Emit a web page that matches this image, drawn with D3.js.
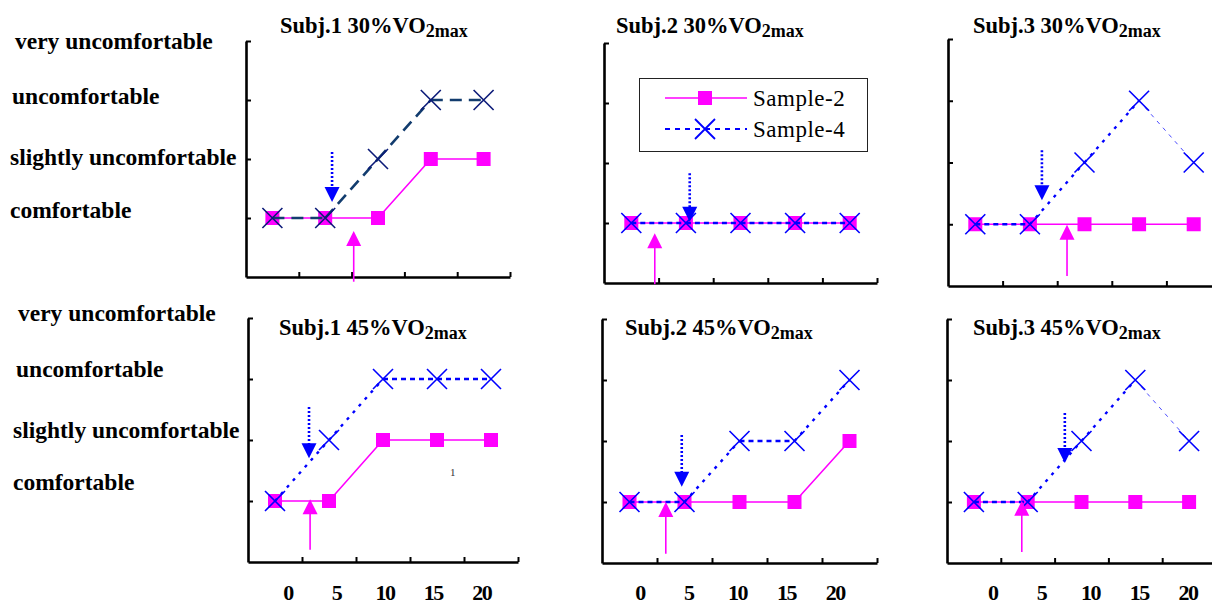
<!DOCTYPE html>
<html>
<head>
<meta charset="utf-8">
<script src="https://cdn.jsdelivr.net/npm/d3@7"></script>
<style>
  html, body { margin: 0; padding: 0; background: #fff; }
  svg { display: block; }
  text { font-family: "Liberation Serif", "Times New Roman", serif; }
</style>
</head>
<body>
<svg id="chart" width="1212" height="604"></svg>
<script>
// ---------------- DATA ----------------
const levelLabels = ["comfortable", "slightly uncomfortable", "uncomfortable", "very uncomfortable"]; // levels 1..4
const levelValues = [1, 2, 3, 4];
const timeTicks = [0, 5, 10, 15, 20];
const seriesNames = ["Sample-2", "Sample-4"];

const panelTitles = ["Subj.1 30%VO", "Subj.2 30%VO", "Subj.3 30%VO", "Subj.1 45%VO", "Subj.2 45%VO", "Subj.3 45%VO"];
const titleSub = "2max";

// comfort level at each of the 5 measurements
const sample2 = [
  [1, 1, 1, 2, 2],
  [1, 1, 1, 1, 1],
  [1, 1, 1, 1, 1],
  [1, 1, 2, 2, 2],
  [1, 1, 1, 1, 2],
  [1, 1, 1, 1, 1]
];
const sample4 = [
  [1, 1, 2, 3, 3],
  [1, 1, 1, 1, 1],
  [1, 1, 2, 3, 2],
  [1, 2, 3, 3, 3],
  [1, 1, 2, 2, 3],
  [1, 1, 2, 3, 2]
];

// arrows: [x position in measurement index units, tail level, tip level]
const arrowSample4 = [
  [1.13, 2.12, 1.27],
  [1.07, 1.83, 1.02],
  [1.22, 2.20, 1.39],
  [0.63, 2.54, 1.70],
  [0.95, 2.10, 1.25],
  [1.69, 2.46, 1.64]
];
const arrowSample2 = [
  [1.54, -0.08, 0.78],
  [0.43, -0.02, 0.83],
  [1.68, 0.16, 0.99],
  [0.65, 0.20, 1.03],
  [0.66, 0.15, 1.00],
  [0.89, 0.18, 1.02]
];

// ---------------- LAYOUT ----------------
const layout = [
  {left: 246, right: 510, top: 41, bottom: 277, tx: 280, ty: 33, navy: true},
  {left: 604, right: 877, top: 43, bottom: 283, tx: 616, ty: 33},
  {left: 948, right: 1221, top: 39, bottom: 286, tx: 973, ty: 33, thinLast: true},
  {left: 248, right: 518, top: 318, bottom: 562, tx: 279, ty: 335},
  {left: 602, right: 877, top: 319, bottom: 563, tx: 625, ty: 335},
  {left: 947, right: 1216, top: 319, bottom: 563, tx: 973, ty: 335, thinLast: true}
];
// tick-label mapping (index units for times 0 and 20) in the bottom row
const tickLabelSpan = [[0.24, 3.83], [0.19, 3.74], [0.35, 3.98]];

const rowLabelX = [[10, 10, 12, 15], [13, 13, 16, 18]];
const rowLabelDy = [[0, 6, 4, 8], [-11, -2, -2, 3]];

const MAGENTA = "#ff00ff";
const BLUE = "#0000ff";
const svg = d3.select("#chart");
svg.append("rect").attr("width", 1212).attr("height", 604).attr("fill", "#fff");

layout.forEach((L, p) => {
  const x = d3.scaleLinear().domain([-0.5, 4.5]).range([L.left, L.right]);
  const y = d3.scaleLinear().domain([0, 4]).range([L.bottom, L.top]);
  const g = svg.append("g");

  // axes
  const yAxis = d3.axisLeft(y).tickValues(levelValues).tickSizeInner(-5).tickSizeOuter(0).tickFormat("");
  const gy = g.append("g").attr("transform", `translate(${L.left},0)`).call(yAxis);
  const xAxis = d3.axisBottom(x).tickValues([0.5, 1.5, 2.5, 3.5, 4.5]).tickSizeInner(-5).tickSizeOuter(0).tickFormat("");
  const gx = g.append("g").attr("transform", `translate(0,${L.bottom})`).call(xAxis);
  [gy, gx].forEach(a => {
    a.select(".domain").attr("stroke", "#000").attr("stroke-width", 2.6);
    a.selectAll(".tick line").attr("stroke", "#000").attr("stroke-width", 2);
  });

  // title
  const t = g.append("text").attr("x", L.tx).attr("y", L.ty)
    .attr("font-size", 22.5).attr("font-weight", "bold").attr("fill", "#000");
  t.append("tspan").text(panelTitles[p]);
  t.append("tspan").attr("font-size", 18).attr("dy", 4).text(titleSub);

  // Sample-2
  const idx = d3.range(5);
  const line = d3.line().x(d => x(d[0])).y(d => y(d[1]));
  g.append("path").datum(idx.map(i => [i, sample2[p][i]]))
    .attr("d", line).attr("fill", "none").attr("stroke", MAGENTA).attr("stroke-width", 1.6);
  g.selectAll(".sq").data(sample2[p]).enter().append("rect")
    .attr("x", (d, i) => x(i) - 7).attr("y", d => y(d) - 7)
    .attr("width", 14).attr("height", 14).attr("fill", MAGENTA);

  // Sample-4 (segment by segment)
  const s4 = sample4[p];
  const lineCol = L.navy ? "#123c6e" : BLUE;
  const markCol = L.navy ? "#0b1a78" : BLUE;
  for (let i = 0; i < 4; i++) {
    const flat = s4[i] === s4[i + 1];
    const thin = L.thinLast && i === 3;
    let dash = flat ? "5,4" : "3,6";
    let w = 2.4;
    if (L.navy) { dash = "12,7"; w = 2.6; }
    if (thin) { dash = "4,5"; w = 1; }
    g.append("path").datum([[i, s4[i]], [i + 1, s4[i + 1]]])
      .attr("d", line).attr("fill", "none").attr("stroke", lineCol)
      .attr("stroke-width", w).attr("stroke-dasharray", dash)
      .attr("opacity", thin ? 0.7 : 1);
  }
  const xs = 10;
  g.selectAll(".xm").data(s4).enter().append("path")
    .attr("d", (d, i) => `M${x(i) - xs},${y(d) - xs}L${x(i) + xs},${y(d) + xs}M${x(i) - xs},${y(d) + xs}L${x(i) + xs},${y(d) - xs}`)
    .attr("stroke", markCol).attr("stroke-width", 1.6).attr("fill", "none");

  // arrows
  const a4 = arrowSample4[p];
  const ax = x(a4[0]), tail = y(a4[1]), tip = y(a4[2]);
  g.append("line").attr("x1", ax).attr("x2", ax).attr("y1", tail).attr("y2", tip - 12)
    .attr("stroke", BLUE).attr("stroke-width", 2.6).attr("stroke-dasharray", "2,2");
  g.append("path").attr("d", `M${ax - 7.5},${tip - 15}L${ax + 7.5},${tip - 15}L${ax},${tip}Z`).attr("fill", BLUE);

  const a2 = arrowSample2[p];
  const bx = x(a2[0]), tail2 = y(a2[1]), tip2 = y(a2[2]);
  g.append("line").attr("x1", bx).attr("x2", bx).attr("y1", tail2).attr("y2", tip2 + 12)
    .attr("stroke", MAGENTA).attr("stroke-width", 1.6);
  g.append("path").attr("d", `M${bx - 7.5},${tip2 + 15}L${bx + 7.5},${tip2 + 15}L${bx},${tip2}Z`).attr("fill", MAGENTA);

  // row labels & tick labels
  const row = p < 3 ? 0 : 1;
  if (p % 3 === 0) {
    levelLabels.forEach((lab, i) => {
      g.append("text").attr("x", rowLabelX[row][i]).attr("y", y(levelValues[i]) + rowLabelDy[row][i])
        .attr("font-size", 23.5).attr("font-weight", "bold").text(lab);
    });
  }
  if (row === 1) {
    const span = tickLabelSpan[p - 3];
    const tl = d3.scaleLinear().domain([0, 20]).range([x(span[0]), x(span[1])]);
    g.selectAll(".tl").data(timeTicks).enter().append("text")
      .attr("x", d => tl(d)).attr("y", 600).attr("text-anchor", "middle")
      .attr("font-size", 22).attr("font-weight", "bold").attr("letter-spacing", -1.5)
      .text(d => d);
  }
  if (p === 3) {
    g.append("text").attr("x", 450).attr("y", 476).attr("font-size", 11).attr("fill", "#333")
      .attr("font-family", "Liberation Sans, Arial, sans-serif").text("1");
  }

  // legend
  if (p === 1) {
    const lg = g.append("g");
    lg.append("rect").attr("x", 639.5).attr("y", 78.5).attr("width", 228).attr("height", 73)
      .attr("fill", "#fff").attr("stroke", "#222").attr("stroke-width", 1);
    const rows = [98, 129];
    seriesNames.forEach((name, i) => {
      const ry = rows[i];
      lg.append("line").attr("x1", 665).attr("x2", 747).attr("y1", ry).attr("y2", ry)
        .attr("stroke", i === 0 ? MAGENTA : BLUE).attr("stroke-width", i === 0 ? 1.6 : 2)
        .attr("stroke-dasharray", i === 0 ? null : "5,5");
      if (i === 0) {
        lg.append("rect").attr("x", 698).attr("y", ry - 7).attr("width", 14).attr("height", 14).attr("fill", MAGENTA);
      } else {
        lg.append("path").attr("d", `M${695},${ry - 10}L${715},${ry + 10}M${695},${ry + 10}L${715},${ry - 10}`)
          .attr("stroke", BLUE).attr("stroke-width", 1.8);
      }
      lg.append("text").attr("x", 753).attr("y", ry + 8).attr("font-size", 23).attr("letter-spacing", 0.5)
        .text(name);
    });
  }
});
</script>
</body>
</html>
